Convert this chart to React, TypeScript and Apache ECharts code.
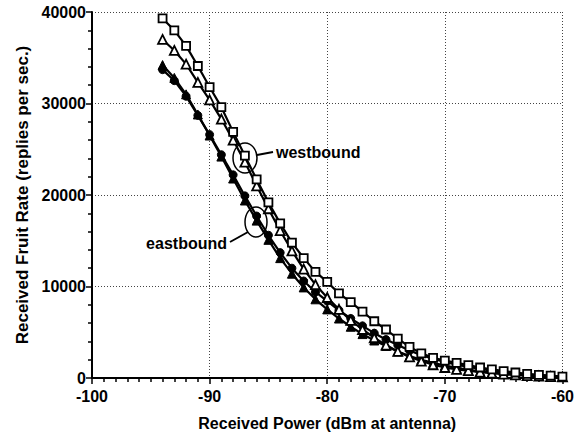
import React, { useEffect, useRef } from "react";
import * as echarts from "echarts";

const powerDbm = [
  -94, -93, -92, -91, -90, -89, -88, -87, -86, -85, -84, -83, -82, -81, -80, -79, -78, -77,
  -76, -75, -74, -73, -72, -71, -70, -69, -68, -67, -66, -65, -64, -63, -62, -61, -60,
];

const westSquares = [
  39300, 38000, 36300, 34100, 31800, 29600, 26900, 24300, 21700, 19200, 16900, 14800, 13100,
  11600, 10500, 9250, 8300, 7250, 6200, 5300, 4300, 3400, 2700, 2200, 1900, 1650, 1400, 1150,
  950, 750, 600, 450, 350, 250, 150,
];

const westTriangles = [
  37000, 35800, 34300, 32300, 30400, 28300, 26000, 23600, 21000, 18500, 16100, 13900, 11900,
  10200, 8800, 7500, 6300, 5300, 4400, 3600, 2900, 2300, 1850, 1450, 1150, 950, 800, 650, 520,
  420, 340, 270, 210, 160, 120,
];

const eastCircles = [
  33700, 32500, 30800, 28700, 26600, 24400, 22200, 19900, 17700, 15600, 13700, 12000, 10600,
  9400, 8400, 7400, 6500, 5700, 4900, 4200, 3600, 3000, 2500, 2100, 1750, 1450, 1200, 1000, 800,
  650, 500, 380, 280, 200, 140,
];

const eastTriangles = [
  34200, 32800, 31000, 28800, 26500, 24200, 21800, 19400, 17200, 15100, 13100, 11400, 9900, 8600,
  7500, 6500, 5600, 4800, 4100, 3500, 2900, 2400, 2000, 1650, 1350, 1100, 900, 730, 590, 470,
  370, 290, 220, 160, 110,
];

const xTitle = "Received Power (dBm at antenna)";
const yTitle = "Received Fruit Rate (replies per sec.)";

const FONT = "'Liberation Sans', Arial, Helvetica, sans-serif";

function pairs(vals: number[]) {
  return powerDbm.map((x, i) => [x, vals[i]]);
}

export default function App() {
  const ref = useRef<HTMLDivElement>(null);
  useEffect(() => {
    if (!ref.current) return;
    const chart = echarts.init(ref.current, null, { renderer: "svg" });
    const lineStyle = { color: "#000", width: 2.2 };
    const open = { color: "#fff", borderColor: "#000", borderWidth: 1.8 };
    const filled = { color: "#000", borderColor: "#000", borderWidth: 1 };
    chart.setOption({
      animation: false,
      backgroundColor: "#fff",
      textStyle: { fontFamily: FONT },
      grid: { left: 92, right: 9, top: 12, bottom: 63 },
      xAxis: {
        type: "value",
        min: -100,
        max: -60,
        interval: 10,
        name: xTitle,
        nameLocation: "middle",
        nameGap: 37,
        nameTextStyle: { fontFamily: FONT, fontWeight: "bold", fontSize: 16, color: "#000" },
        axisLine: { lineStyle: { color: "#000", width: 2 } },
        axisTick: { show: true, length: 6, lineStyle: { color: "#000", width: 1.5 } },
        minorTick: { show: true, splitNumber: 10, length: 4, lineStyle: { color: "#000", width: 1.5 } },
        axisLabel: { fontFamily: FONT, fontWeight: "bold", fontSize: 16, color: "#000", margin: 10 },
        splitLine: { show: true, lineStyle: { color: "#444", width: 1, type: [1, 2] } },
      },
      yAxis: {
        type: "value",
        min: 0,
        max: 40000,
        interval: 10000,
        name: yTitle,
        nameLocation: "middle",
        nameGap: 60,
        nameTextStyle: { fontFamily: FONT, fontWeight: "bold", fontSize: 17, color: "#000" },
        axisLine: { show: true, lineStyle: { color: "#000", width: 2 } },
        axisTick: { show: true, length: 6, lineStyle: { color: "#000", width: 1.5 } },
        minorTick: { show: true, splitNumber: 5, length: 4, lineStyle: { color: "#000", width: 1.5 } },
        axisLabel: {
          fontFamily: FONT,
          fontWeight: "bold",
          fontSize: 16,
          color: "#000",
          margin: 6,
          formatter: (v: number) => String(v),
        },
        splitLine: { show: true, lineStyle: { color: "#444", width: 1, type: [1, 2] } },
      },
      series: [
        {
          name: "westbound squares",
          type: "line",
          data: pairs(westSquares),
          symbol: "rect",
          symbolSize: 8,
          lineStyle,
          itemStyle: open,
          z: 4,
        },
        {
          name: "westbound triangles",
          type: "line",
          data: pairs(westTriangles),
          symbol: "triangle",
          symbolSize: 9,
          lineStyle,
          itemStyle: open,
          z: 3,
        },
        {
          name: "eastbound circles",
          type: "line",
          data: pairs(eastCircles),
          symbol: "circle",
          symbolSize: 8,
          lineStyle,
          itemStyle: filled,
          z: 2,
        },
        {
          name: "eastbound triangles",
          type: "line",
          data: pairs(eastTriangles),
          symbol: "triangle",
          symbolSize: 9,
          lineStyle,
          itemStyle: filled,
          z: 2,
        },
      ],
      graphic: [
        {
          type: "ellipse",
          shape: { cx: 245, cy: 158, rx: 12, ry: 15 },
          style: { fill: "none", stroke: "#000", lineWidth: 1.5 },
          z: 10,
        },
        {
          type: "line",
          shape: { x1: 257, y1: 155, x2: 273, y2: 152 },
          style: { stroke: "#000", lineWidth: 2 },
          z: 10,
        },
        {
          type: "text",
          x: 276,
          y: 152,
          style: {
            text: "westbound",
            fontFamily: FONT,
            fontWeight: "bold",
            fontSize: 16,
            fill: "#000",
            verticalAlign: "middle",
          },
          z: 10,
        },
        {
          type: "ellipse",
          shape: { cx: 256, cy: 222, rx: 11, ry: 15 },
          style: { fill: "none", stroke: "#000", lineWidth: 1.5 },
          z: 10,
        },
        {
          type: "line",
          shape: { x1: 248, y1: 232, x2: 230, y2: 242 },
          style: { stroke: "#000", lineWidth: 2 },
          z: 10,
        },
        {
          type: "text",
          x: 227,
          y: 243,
          style: {
            text: "eastbound",
            fontFamily: FONT,
            fontWeight: "bold",
            fontSize: 16,
            fill: "#000",
            align: "right",
            verticalAlign: "middle",
          },
          z: 10,
        },
      ],
    });
    return () => chart.dispose();
  }, []);
  return (
    <div
      ref={ref}
      style={{ position: "absolute", left: 0, top: 0, width: 577, height: 441 }}
    />
  );
}
